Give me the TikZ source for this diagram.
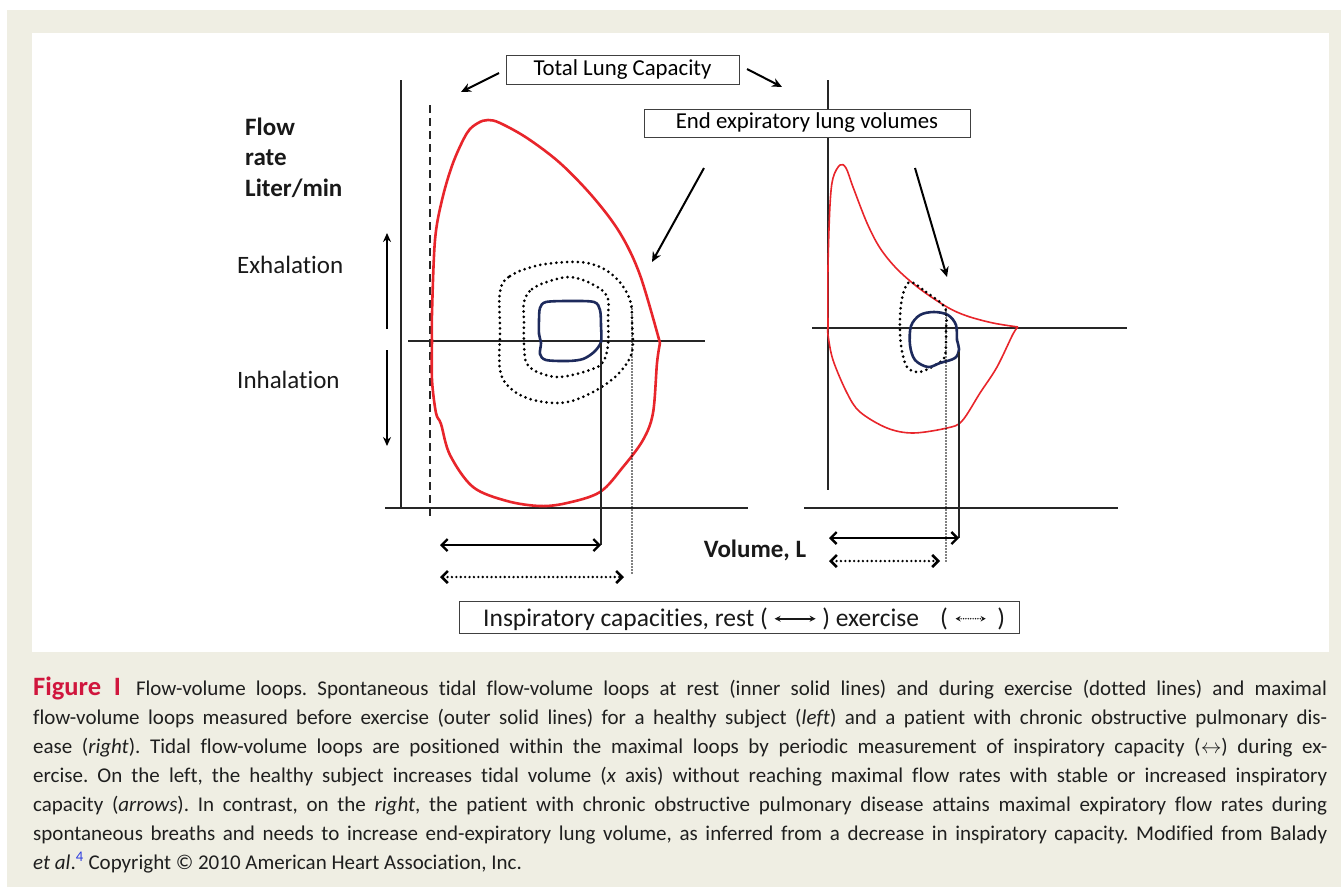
\documentclass[tikz,border=0pt]{standalone}
\usepackage{fontspec}
\setmainfont{Carlito}[Ligatures={NoCommon}]
\usetikzlibrary{arrows.meta}
\definecolor{beige}{HTML}{EFEEE3}
\definecolor{loopred}{HTML}{E8252B}
\definecolor{navy}{HTML}{1D2A5C}
\definecolor{figred}{HTML}{D0163D}
\definecolor{refblue}{HTML}{2F3FE0}
\frenchspacing
\begin{document}
\begin{tikzpicture}[x=1pt,y=-1pt,
  axis/.style={draw=black!85, line width=1.3pt},
  redloop/.style={draw=loopred, line width=2.6pt, line join=round},
  redthin/.style={draw=loopred, line width=1.6pt, line join=round},
  restloop/.style={draw=navy, line width=2.6pt},
  exloop/.style={draw=black, line width=3pt, dash pattern=on 0pt off 5.4pt, line cap=round},
  thindot/.style={draw=black, line width=1.7pt, dash pattern=on 0pt off 3pt, line cap=round},
  solidref/.style={draw=black!85, line width=1.4pt},
  lbl/.style={font=\fontsize{25}{29}\selectfont, inner sep=0pt, text=black!90},
  bolbl/.style={inner sep=0pt, text=black!90, font=\fontsize{25}{29}\selectfont\bfseries},
  tagbox/.style={draw=black!75, line width=0.9pt, fill=white, inner sep=0pt, font=\fontsize{22.8}{26}\selectfont},
  ptr/.style={draw=black, line width=2pt, -{Stealth[length=10pt,width=9pt]}},
  vptr/.style={draw=black, line width=2pt, -{Stealth[length=9pt,width=8pt]}},
  ic/.style={draw=black, line width=2.3pt, {Straight Barb[length=6pt,width=12pt]}-{Straight Barb[length=6pt,width=12pt]}},
  icdot/.style={ic, dash pattern=on 0pt off 4.4pt, line cap=round, line width=2.6pt},
  capl/.style={anchor=base west, inner sep=0pt, font=\fontsize{21}{25}\selectfont, text=black!88},
]
\useasboundingbox (0,0) rectangle (1341,887);
% backgrounds
\fill[white] (0,0) rectangle (1341,887);
\fill[beige] (7,10) rectangle (1341,887);
\fill[white] (32,33) rectangle (1329,652);

% ---------------- left chart ----------------
\draw[axis] (401,80) -- (401,508);
\draw[axis] (385,508) -- (748,508);
\draw[axis] (408,341) -- (705,341);
\draw[draw=black!85, line width=1.3pt, dash pattern=on 8pt off 5pt] (430,105) -- (430,518);

% maximal loop (healthy)
\draw[redloop] plot[smooth, tension=0.55] coordinates {(432,341) (432,313) (435,240) (442,200) (453,163) (467,133) (478,123) (488,120) (500,123) (527,138) (560,163) (593,197) (620,233) (640,275) (660,343)};
\draw[redloop] plot[smooth, tension=0.55] coordinates {(660,343) (657,363) (653,413) (643,440) (623,467) (600,492) (567,503) (540,506) (507,501) (473,487) (450,455) (441,424) (436,413) (432,380) (432,341)};

% exercise loops
\draw[exloop] plot[smooth cycle, tension=0.6] coordinates {(500,292) (510,276) (540,265) (577,262) (600,267) (618,280) (630,300) (632,322) (632,352) (620,372) (600,388) (575,400) (555,403) (530,399) (510,388) (500,370) (500,330)};
\draw[exloop] plot[smooth cycle, tension=0.6] coordinates {(524,302) (532,289) (550,281) (570,277) (590,283) (607,296) (608,320) (608,345) (603,362) (590,370) (560,377) (540,373) (527,364) (524,345) (524,322)};

% rest loop
\draw[restloop] plot[smooth cycle, tension=0.5] coordinates {(540,308) (546,302) (570,301) (594,302) (600,310) (601,326) (601,342) (594,352) (583,359) (568,361) (546,360) (540,354) (541,343) (539,334) (539,320)};

% inspiratory capacity verticals
\coordinate (lrest) at (601,545);
\coordinate (lex) at (632,575);
\draw[solidref] (601,343) -- (lrest);
\draw[thindot] (632,306) -- (lex);

% ---------------- right chart ----------------
\draw[axis] (828,80) -- (828,490);
\draw[axis] (804,508) -- (1118,508);
\draw[axis] (812,328) -- (1127,328);

\draw[redthin] plot[smooth, tension=0.55] coordinates {(828,328) (828,267) (830,205) (833,178) (840,165) (846,168) (853,187) (867,223) (880,248) (897,269) (920,289) (947,307) (967,316) (993,323) (1018,327)};
\draw[redthin] plot[smooth, tension=0.55] coordinates {(1018,327) (1013,334) (997,367) (980,393) (962,421) (947,428) (913,433) (887,428) (860,412) (847,393) (833,360) (828,335) (828,328)};

\draw[exloop] plot[smooth cycle, tension=0.55] coordinates {(910,282) (926,292) (945,308) (946,332) (945,356) (937,364) (920,372) (907,367) (901,345) (900,317) (903,294)};
\draw[restloop] plot[smooth cycle, tension=0.55] coordinates {(920,315) (934,312) (948,315) (956,325) (957,340) (959,349) (955,358) (940,363) (928,367) (915,360) (910,345) (911,326)};

\coordinate (rrest) at (959,538);
\coordinate (rex) at (946,562);
\draw[solidref] (959,352) -- (rrest);
\draw[thindot] (946,309) -- (rex);

% ---------------- inspiratory capacity arrows ----------------
\coordinate (lrestL) at (440,545);
\coordinate (lexL) at (440,577);
\coordinate (lexR) at (624,577);
\coordinate (rrestL) at (829,538);
\coordinate (rexL) at (829,561);
\coordinate (rexR) at (940,561);
\draw[ic] (lrestL) -- (lrest);
\draw[icdot] (lexL) -- (lexR);
\draw[ic] (rrestL) -- (rrest);
\draw[icdot] (rexL) -- (rexR);

% ---------------- labels ----------------
\node[tagbox, minimum width=233pt, minimum height=29pt] (tlc) at (622.5,69.5) {Total Lung Capacity};
\coordinate (tlcL) at (461,92);
\coordinate (tlcR) at (782,87);
\draw[ptr] (499,73) -- (tlcL);
\draw[ptr] (747,69) -- (tlcR);

\node[tagbox, minimum width=326pt, minimum height=28pt] (eelv) at (807,123) {End expiratory lung volumes};
\coordinate (eelvL) at (652,262);
\coordinate (eelvR) at (947,277);
\draw[ptr] (704,168) -- (eelvL);
\draw[ptr] (915,168) -- (eelvR);

\node[bolbl, anchor=base west] (flow) at (245,135) {Flow};
\node[bolbl, anchor=base west] (rate) at (245,165) {rate};
\node[bolbl, anchor=base west] (unit) at (245,196) {Liter/min};
\node[lbl, anchor=base west] (exh) at (237,273) {Exhalation};
\node[lbl, anchor=base west] (inh) at (237,388) {Inhalation};
\coordinate (upT) at (387,233);
\coordinate (dnB) at (387,446);
\draw[vptr] (387,329) -- (upT);
\draw[vptr] (387,350) -- (dnB);

\node[bolbl, anchor=base] (vol) at (755,557) {Volume, L};

\node[tagbox, minimum width=560pt, minimum height=32pt] (ic) at (739,617) {};
\node[anchor=base west, inner sep=0pt, text=black!90, font=\fontsize{25.5}{29}\selectfont] (ictext) at (483,626) {Inspiratory capacities, rest (\hspace{6pt}\tikz[baseline=-0.6ex]\draw[line width=1.6pt,{Stealth[length=6pt,width=6pt]}-{Stealth[length=6pt,width=6pt]}] (0pt,0pt) -- (41pt,0pt);\hspace{6pt}) exercise\hspace{21pt}(\hspace{7pt}\tikz[baseline=-0.6ex]\draw[line width=1.6pt,dash pattern=on 0pt off 2.4pt,line cap=round,{Stealth[length=5pt,width=5.5pt]}-{Stealth[length=5pt,width=5.5pt]}] (0pt,0pt) -- (30pt,0pt);\hspace{11pt})};

% ---------------- caption ----------------
\node[capl] (c1) at (33,695) {\makebox[1294pt][s]{{\fontsize{26.5}{28}\selectfont\bfseries\color{figred}Figure I}\hspace{15pt}Flow-volume loops. Spontaneous tidal flow-volume loops at rest (inner solid lines) and during exercise (dotted lines) and maximal}};
\node[capl] (c2) at (33,724) {\makebox[1294pt][s]{flow-volume loops measured before exercise (outer solid lines) for a healthy subject (\textit{left}) and a patient with chronic obstructive pulmonary dis-}};
\node[capl] (c3) at (33,753) {\makebox[1294pt][s]{ease (\textit{right}). Tidal flow-volume loops are positioned within the maximal loops by periodic measurement of inspiratory capacity ($\leftrightarrow$) during ex-}};
\node[capl] (c4) at (33,782) {\makebox[1294pt][s]{ercise. On the left, the healthy subject increases tidal volume (\textit{x} axis) without reaching maximal flow rates with stable or increased inspiratory}};
\node[capl] (c5) at (33,811) {\makebox[1294pt][s]{capacity (\textit{arrows}). In contrast, on the \textit{right}, the patient with chronic obstructive pulmonary disease attains maximal expiratory flow rates during}};
\node[capl] (c6) at (33,840) {\makebox[1294pt][s]{spontaneous breaths and needs to increase end-expiratory lung volume, as inferred from a decrease in inspiratory capacity. Modified from Balady}};
\node[capl] (c7) at (33,869) {\textit{et al}.\textsuperscript{\color{refblue}4} Copyright © 2010 American Heart Association, Inc.};
\end{tikzpicture}
\end{document}
